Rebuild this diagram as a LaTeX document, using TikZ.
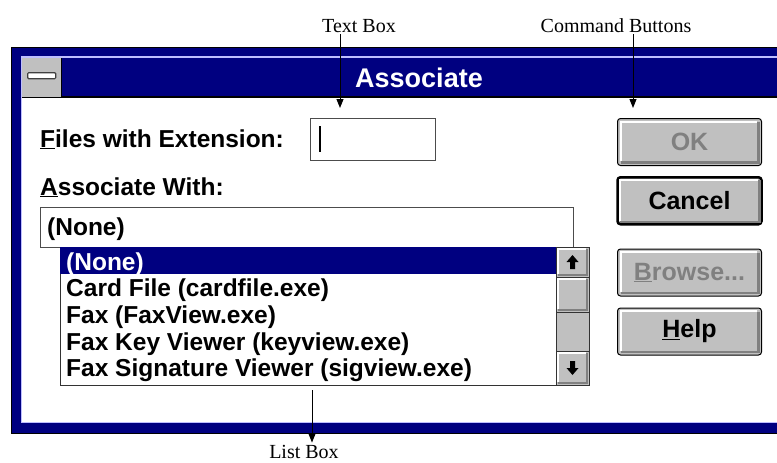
\documentclass[tikz,border=0pt]{standalone}
\usepackage{fontspec}
\setmainfont{Liberation Serif}
\newfontfamily\winfont{Liberation Sans}
\usetikzlibrary{positioning, arrows.meta, calc}

\definecolor{winnavy}{RGB}{0,0,128}
\definecolor{winrim}{RGB}{190,190,255}
\definecolor{btnface}{RGB}{192,192,192}
\definecolor{btnshade}{RGB}{128,128,128}

\begin{document}
\begin{tikzpicture}[
    x=1pt, y=-1pt,
    callout/.style={font=\fontsize{20}{20}\selectfont, inner sep=2pt, anchor=base},
    pointer/.style={-{Triangle[length=9pt, width=7pt]}, line width=1pt},
    uitext/.style={font=\winfont\bfseries\fontsize{24.5}{24.5}\selectfont, inner sep=0pt, anchor=base west},
    field/.style={rectangle, draw=black!70, fill=white, line width=1pt, inner sep=0pt, outer sep=0pt},
    cmdbtn/.style={
        rectangle,
        draw=black,
        fill=btnface,
        line width=1pt,
        minimum width=144pt,
        minimum height=47pt,
        rounded corners=3pt,
        font=\winfont\bfseries\fontsize{25}{25}\selectfont
    },
    greyed/.style={text=black!50},
    scrollpart/.style={rectangle, draw=black!80, fill=btnface, line width=1pt,
        minimum width=33pt, inner sep=0pt, outer sep=0pt}
]

\clip (0,0) rectangle (777,463);

% Window frame
\fill[black] (11,47) rectangle (800,434);
\fill[winnavy] (12,48) rectangle (800,433);
\fill[winrim] (21,56) rectangle (800,423);
\fill[white] (22,98) rectangle (800,422);

% Title bar
\fill[winnavy] (22,58) rectangle (800,96);
\draw[black, line width=1.5pt] (22,97) -- (800,97);
\node[rectangle, fill=btnface, minimum width=39pt, minimum height=39pt, inner sep=0pt, anchor=north west] (sysmenu) at (22,58) {};
\draw[black] (sysmenu.north east) -- (sysmenu.south east);
\node[rectangle, draw=black!75, fill=white, line width=1.2pt, rounded corners=1pt,
    minimum width=28pt, minimum height=6pt, inner sep=0pt] (sysbar) at ($(sysmenu.center)+(0,-2)$) {};
\node[font=\winfont\bfseries\fontsize{27}{27}\selectfont, text=white, anchor=base, inner sep=0pt] (title) at (419,87) {Associate};

% Extension field
\node[uitext] (extlbl) at (40,147) {\underline{F}iles with Extension:};
\node[field, anchor=north west, minimum width=125pt, minimum height=42pt] (extbox) at (310,118) {};
\draw[line width=2.2pt] ($(extbox.west)+(10,-13)$) -- ($(extbox.west)+(10,13)$);

% Associate with
\node[uitext] (withlbl) at (40,195) {\underline{A}ssociate With:};
\node[field, anchor=north west, minimum width=533pt, minimum height=40pt] (combo) at (40,207) {};
\node[uitext] (combotext) at (47,235) {(None)};

% List box
\node[field, draw=black!80, anchor=north west, minimum width=529pt, minimum height=138pt] (listbox) at (60,247) {};
\fill[winnavy] (listbox.north west) rectangle (556,274);
\node[uitext, text=white] (row0) at (66,270) {(None)};
\foreach \entry [count=\i] in {{Card File (cardfile.exe)}, {Fax (FaxView.exe)},
        {Fax Key Viewer (keyview.exe)}, {Fax Signature Viewer (sigview.exe)}}
    \node[uitext] (row\i) at (66, 270+26.7*\i) {\entry};

% Scroll bar
\node[scrollpart, anchor=north west, minimum height=30pt] (scrollup) at (556,247) {};
\node[scrollpart, anchor=north, minimum height=35pt] (thumb) at (scrollup.south) {};
\node[scrollpart, anchor=north, minimum height=39pt] (track) at (thumb.south) {};
\node[scrollpart, anchor=north, minimum height=34pt] (scrolldown) at (track.south) {};
\foreach \b in {scrollup, thumb, scrolldown} {
    \draw[btnshade, line width=2pt] ([shift={(2pt,2pt)}]\b.south west) -- ([shift={(-2pt,2pt)}]\b.south east) -- ([shift={(-2pt,-2pt)}]\b.north east);
    \draw[white, line width=1.5pt] ([shift={(2pt,3pt)}]\b.south west) -- ([shift={(2pt,-2pt)}]\b.north west) -- ([shift={(-3pt,-2pt)}]\b.north east);
}
\foreach \b/\d/\e in {scrollup/-7/7, scrolldown/7/-7}
    \fill ($(\b.center)+(0,\d)$) -- ++(6,\e) -- ++(-3.5,0) -- ++(0,\e) -- ++(-5,0) -- ++(0,\d) -- ++(-3.5,0) -- cycle;

% Command buttons
\node[cmdbtn, anchor=north west, greyed] (okbtn) at (617,118) {OK};
\node[cmdbtn, line width=2.5pt, below=10pt of okbtn] (cancelbtn) {Cancel};
\node[cmdbtn, greyed, below=23pt of cancelbtn] (browsebtn) {\underline{B}rowse...};
\node[cmdbtn, below=11pt of browsebtn] (helpbtn) {\underline{H}elp};
\foreach \b in {okbtn, cancelbtn, browsebtn, helpbtn} {
    \draw[btnshade, line width=2.5pt] ([shift={(4pt,3.5pt)}]\b.south west) -- ([shift={(-3.5pt,3.5pt)}]\b.south east) -- ([shift={(-3.5pt,-4pt)}]\b.north east);
    \draw[white, line width=2pt] ([shift={(3.5pt,5pt)}]\b.south west) -- ([shift={(3.5pt,-3.5pt)}]\b.north west) -- ([shift={(-5pt,-3.5pt)}]\b.north east);
}

% Callouts
\node[callout] (textlbl) at (359,32) {Text Box};
\node[callout] (cmdlbl) at (616,32) {Command Buttons};
\node[callout] (listlbl) at (304,458) {List Box};
\coordinate (texttip) at (340,108);
\coordinate (cmdtip) at (633,108);
\coordinate (listtail) at (312,390);
\draw[pointer] (textlbl.south -| texttip) -- (texttip);
\draw[pointer] (cmdlbl.south -| cmdtip) -- (cmdtip);
\draw[pointer] (listtail) -- (listlbl.north -| listtail);

\end{tikzpicture}
\end{document}
